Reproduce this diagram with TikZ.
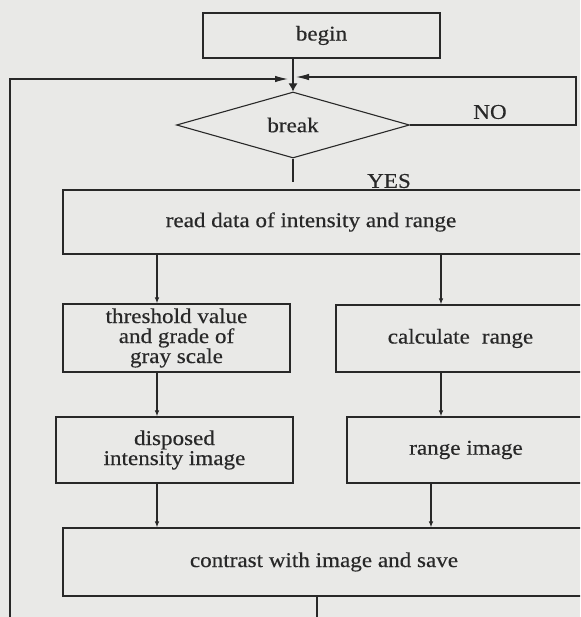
\documentclass[tikz,border=0pt]{standalone}
\usepackage{fontspec}
\setmainfont[FakeStretch=1.1,FakeBold=0.4]{Liberation Serif}
\usetikzlibrary{shapes.geometric,arrows.meta,calc}
\definecolor{bg}{RGB}{233,233,231}
\definecolor{ink}{RGB}{40,40,40}
\begin{document}
\begin{tikzpicture}[x=1pt,y=-1pt,
  txt/.style={text=ink, font=\fontsize{21}{20}\selectfont},
  box/.style={txt, draw=ink, line width=1.1pt, rectangle, inner sep=0pt, align=center},
  cond/.style={txt, draw=ink, line width=1.1pt, diamond, aspect=3.5, inner sep=0pt},
  lbl/.style={txt, inner sep=0pt},
  line/.style={draw=ink, line width=1.1pt},
  arr/.style={line, -{Latex[length=6pt,width=4.5pt]}},
  bigarr/.style={line, -{Latex[length=13pt,width=6.5pt]}},
  downarr/.style={line, -{Latex[length=8pt,width=9pt]}}]
\fill[bg] (0,0) rectangle (580,617);
\useasboundingbox (0,0) rectangle (580,617);
\clip (0,0) rectangle (580,617);

% nodes
\node[box, minimum width=237pt, minimum height=45pt] (begin) at (321.5,35.5) {begin};
\node[cond, minimum width=233pt, minimum height=66pt] (brk) at (293,125) {break};
\node[box, minimum width=522pt, minimum height=64pt] (read) at (324,222) {\hspace*{-26pt}read data of intensity and range};
\node[box, minimum width=227pt, minimum height=68pt] (thr) at (176.5,338) {threshold value\\and grade of\\gray scale};
\node[box, minimum width=249pt, minimum height=67pt] (calc) at (460.5,338.5) {calculate\hspace{0.3em} range};
\node[box, minimum width=237pt, minimum height=66pt] (disp) at (174.5,450) {disposed\\intensity image};
\node[box, minimum width=238pt, minimum height=66pt] (rimg) at (466,450) {range image};
\node[box, minimum width=522pt, minimum height=68pt] (cmp) at (324,562) {contrast with image and save};

\node[lbl] (no) at (490,112) {NO};
\node[lbl] (yes) at (389,181) {YES};

% helper coordinates
\coordinate (xl) at (157,0);
\coordinate (xr) at (441,0);
\coordinate (xr2) at (431,0);
\coordinate (xb) at (317,0);
\coordinate (jl) at (288,79);
\coordinate (jr) at (296,77);
\coordinate (nr) at (576,77);
\coordinate (ll) at (10,640);

% connectors
\draw[downarr] (begin.south -| brk.north) -- (brk.north);
\draw[line] (brk.south) -- ($(read.north -| brk.south)+(0,-7)$);
\draw[bigarr] (brk.east) -| (nr) -- (jr);
\draw[bigarr] (cmp.south -| xb) -- (xb |- ll) -- (ll) -- (ll |- jl) -- (jl);

\draw[arr] (read.south -| xl) -- (thr.north -| xl);
\draw[arr] (read.south -| xr) -- (calc.north -| xr);
\draw[arr] (thr.south -| xl) -- (disp.north -| xl);
\draw[arr] (calc.south -| xr) -- (rimg.north -| xr);
\draw[arr] (disp.south -| xl) -- (cmp.north -| xl);
\draw[arr] (rimg.south -| xr2) -- (cmp.north -| xr2);
\end{tikzpicture}
\end{document}
